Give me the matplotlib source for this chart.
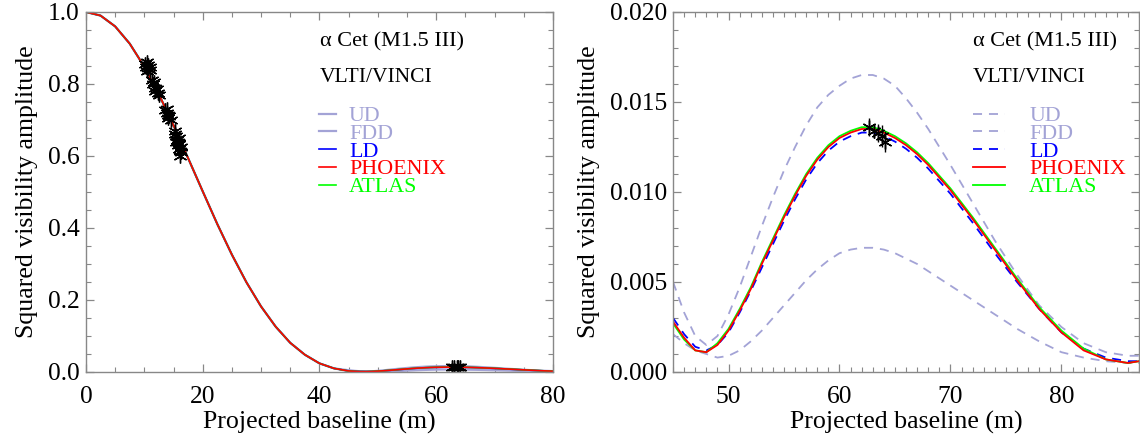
import numpy as np
import matplotlib
matplotlib.use("Agg")
from matplotlib import pyplot as plt
import matplotlib.ticker as ticker

plt.rcParams['font.family'] = ['Liberation Serif', 'DejaVu Serif']
plt.rcParams['lines.scale_dashes'] = False

# ---- model curves: first lobe (shared) ----
b_lobe1 = [0.0, 2.5, 5.0, 7.5, 10.0, 12.5, 15.0, 17.5, 20.0, 22.5, 25.0, 27.5,
           30.0, 32.5, 35.0, 37.5, 40.0, 42.5]
v_lobe1 = [1.000, 0.990, 0.960, 0.912, 0.848, 0.771, 0.685, 0.594, 0.502, 0.411,
           0.326, 0.249, 0.182, 0.126, 0.081, 0.048, 0.024, 0.010]

# ---- second lobe ----
b_lobe2 = [45, 46, 47, 48, 49, 50, 51, 52, 53, 54, 55, 56, 57, 58, 59, 60, 61, 62,
           63, 64, 65, 66, 67, 68, 69, 70, 72, 74, 76, 78, 80, 82, 84, 86, 87]
v_ud = [0.0050, 0.0033, 0.0020, 0.0015, 0.0020, 0.0032, 0.0047, 0.0064, 0.0081,
        0.0097, 0.0112, 0.0125, 0.0137, 0.0147, 0.0154, 0.0159, 0.0163, 0.0165,
        0.0165, 0.0163, 0.0159, 0.0152, 0.0144, 0.0135, 0.0125, 0.0115, 0.0094,
        0.0073, 0.0054, 0.0037, 0.0025, 0.0016, 0.0011, 0.0009, 0.0009]
v_fdd = [0.0021, 0.0016, 0.0012, 0.0010, 0.0008, 0.0009, 0.0012, 0.0017, 0.0023,
         0.0030, 0.0037, 0.0044, 0.0051, 0.0057, 0.0062, 0.0066, 0.0068, 0.0069,
         0.0069, 0.0068, 0.0066, 0.0063, 0.0060, 0.0056, 0.0052, 0.0048, 0.0040,
         0.0032, 0.0024, 0.0017, 0.0011, 0.0008, 0.0006, 0.0005, 0.0005]
v_ld = [0.0030, 0.0021, 0.0014, 0.0012, 0.0015, 0.0022, 0.0033, 0.0045, 0.0058,
        0.0071, 0.0084, 0.0096, 0.0107, 0.0116, 0.0123, 0.0128, 0.0131, 0.0133,
        0.0133, 0.0131, 0.0128, 0.0124, 0.0119, 0.0113, 0.0106, 0.0099, 0.0083,
        0.0066, 0.0050, 0.0035, 0.0022, 0.0013, 0.0008, 0.0006, 0.0006]
v_phoenix = [0.0028, 0.0019, 0.0012, 0.0011, 0.0015, 0.0023, 0.0034, 0.0046, 0.0060,
             0.0073, 0.0086, 0.0098, 0.0109, 0.0118, 0.0125, 0.0130, 0.0133, 0.0135,
             0.0135, 0.0133, 0.0130, 0.0126, 0.0121, 0.0115, 0.0108, 0.0101, 0.0085,
             0.0068, 0.0051, 0.0035, 0.0022, 0.0012, 0.0007, 0.0005, 0.0006]
v_atlas = [0.0027, 0.0018, 0.0012, 0.0011, 0.0016, 0.0024, 0.0035, 0.0047, 0.0061,
           0.0074, 0.0087, 0.0099, 0.0110, 0.0119, 0.0126, 0.0131, 0.0134, 0.0136,
           0.0136, 0.0134, 0.0131, 0.0127, 0.0122, 0.0116, 0.0109, 0.0102, 0.0086,
           0.0069, 0.0052, 0.0036, 0.0023, 0.0013, 0.0007, 0.0005, 0.0006]

# ---- VINCI measurements ----
b_obs1 = [10.1, 10.3, 10.4, 10.6, 10.7, 10.9, 11.0, 10.5,
          11.3, 11.5, 11.7, 11.9, 12.1, 12.3, 12.5, 11.8,
          13.6, 13.8, 14.0, 14.1, 14.3, 14.5, 13.9,
          15.2, 15.3, 15.5, 15.6, 15.7, 15.8, 15.9, 16.0, 16.1, 16.2, 16.3, 15.4, 15.9, 16.1]
v_obs1 = [0.855, 0.848, 0.860, 0.845, 0.852, 0.838, 0.846, 0.835,
          0.810, 0.800, 0.805, 0.790, 0.785, 0.775, 0.770, 0.780,
          0.728, 0.720, 0.715, 0.705, 0.710, 0.700, 0.730,
          0.670, 0.660, 0.655, 0.645, 0.640, 0.630, 0.620, 0.635, 0.615, 0.625, 0.610, 0.640, 0.650, 0.600]
b_obs2 = [62.7, 63.1, 63.5, 63.8, 64.1]
v_obs2 = [0.0136, 0.0134, 0.0133, 0.0131, 0.0128]
e_obs2 = [0.0005, 0.0004, 0.0005, 0.0006, 0.0006]

names = ['UD', 'FDD', 'LD', 'PHOENIX', 'ATLAS']
colors = {'UD': '#a3a3d6', 'FDD': '#a3a3d6', 'LD': '#0000ff', 'PHOENIX': '#ff0000', 'ATLAS': '#00ff00'}
lobe2 = {'UD': v_ud, 'FDD': v_fdd, 'LD': v_ld, 'PHOENIX': v_phoenix, 'ATLAS': v_atlas}
right_ls = {'UD': (0, (6.5, 5)), 'FDD': (0, (6.5, 5)), 'LD': (0, (6.5, 5)), 'PHOENIX': '-', 'ATLAS': '-'}
draw_order = ['UD', 'FDD', 'LD', 'ATLAS', 'PHOENIX']

fig = plt.figure(figsize=(11.4, 4.36), dpi=100)
ax1 = fig.add_axes([0.0754, 0.1468, 0.4096, 0.8257])
ax2 = fig.add_axes([0.5904, 0.1468, 0.4088, 0.8257])

FS = 18.6
TFS = 18.4
LFS = 15.8


def style(ax):
    for s in ax.spines.values():
        s.set_color('#888888')
        s.set_linewidth(1.0)
    ax.tick_params(which='both', direction='in', top=True, right=True, color='#888888',
                   labelsize=TFS)
    ax.tick_params(which='major', length=6, width=0.9)
    ax.tick_params(which='minor', length=3.5, width=0.8)
    ax.tick_params(axis='x', pad=10)
    ax.tick_params(axis='y', pad=4.5)
    ax.set_xlabel('Projected baseline (m)', fontsize=FS, labelpad=2.5)
    ax.set_ylabel('Squared visibility amplitude', fontsize=FS, labelpad=7)


# ---- left panel ----
handles1 = {}
for n in draw_order:
    bb = b_lobe1 + b_lobe2
    vv = v_lobe1 + lobe2[n]
    lw = 1.6 if n in ('UD', 'FDD') else 1.2
    handles1[n], = ax1.plot(bb, vv, color=colors[n], lw=lw, label=n)
ax1.plot(b_obs1, v_obs1, ls='none', marker=(6, 2, 0), ms=10, mew=1.0, color='k')
ax1.errorbar(b_obs2, v_obs2, yerr=e_obs2, fmt='none', ecolor='k', elinewidth=1.0)
ax1.plot(b_obs2, v_obs2, ls='none', marker=(6, 2, 0), ms=10, mew=1.0, color='k')
ax1.set_xlim(0, 80)
ax1.set_ylim(0, 1.0)
ax1.xaxis.set_major_locator(ticker.MultipleLocator(20))
ax1.xaxis.set_minor_locator(ticker.MultipleLocator(5))
ax1.yaxis.set_major_locator(ticker.MultipleLocator(0.2))
ax1.yaxis.set_minor_locator(ticker.MultipleLocator(0.05))
ax1.yaxis.set_major_formatter(ticker.FormatStrFormatter('%.1f'))
style(ax1)
ax1.text(0.501, 0.917, '\u03b1 Cet (M1.5 III)', transform=ax1.transAxes, fontsize=16, va='center')
ax1.text(0.501, 0.817, 'VLTI/VINCI', transform=ax1.transAxes, fontsize=15.5, va='center')
ax1.legend([handles1[n] for n in names], names, loc='upper left', bbox_to_anchor=(0.499, 0.739),
           frameon=False, fontsize=LFS, labelcolor='linecolor', handlelength=0.77,
           handletextpad=0.6, labelspacing=-0.12, borderpad=0, borderaxespad=0)

# ---- right panel ----
handles2 = {}
for n in draw_order:
    handles2[n], = ax2.plot(b_lobe2, lobe2[n], color=colors[n], lw=1.3, ls=right_ls[n], label=n)
ax2.errorbar(b_obs2, v_obs2, yerr=e_obs2, fmt='none', ecolor='k', elinewidth=1.0)
ax2.plot(b_obs2, v_obs2, ls='none', marker=(6, 2, 0), ms=10, mew=1.0, color='k')
ax2.set_xlim(45, 87)
ax2.set_ylim(0, 0.020)
ax2.xaxis.set_major_locator(ticker.MultipleLocator(10))
ax2.xaxis.set_minor_locator(ticker.MultipleLocator(1))
ax2.yaxis.set_major_locator(ticker.MultipleLocator(0.005))
ax2.yaxis.set_minor_locator(ticker.MultipleLocator(0.001))
ax2.yaxis.set_major_formatter(ticker.FormatStrFormatter('%.3f'))
style(ax2)
ax2.text(0.644, 0.917, '\u03b1 Cet (M1.5 III)', transform=ax2.transAxes, fontsize=16, va='center')
ax2.text(0.644, 0.817, 'VLTI/VINCI', transform=ax2.transAxes, fontsize=15.5, va='center')
ax2.legend([handles2[n] for n in names], names, loc='upper left', bbox_to_anchor=(0.644, 0.739),
           frameon=False, fontsize=LFS, labelcolor='linecolor', handlelength=1.45,
           handletextpad=1.1, labelspacing=-0.12, borderpad=0, borderaxespad=0)

plt.savefig('out.png', dpi=100)
